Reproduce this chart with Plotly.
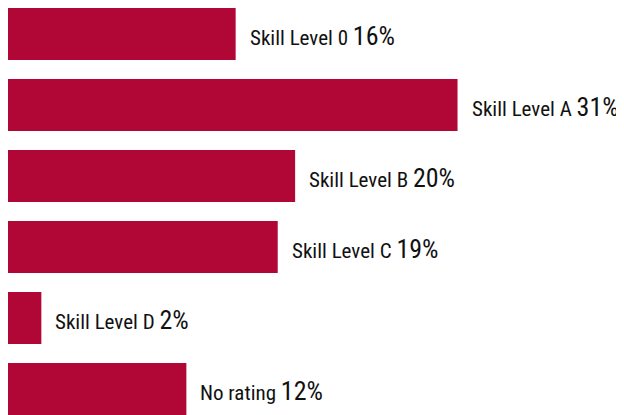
import plotly.graph_objects as go

# Share of staff by skill level (bar lengths, labels rounded)
CATEGORIES = ["Skill Level 0", "Skill Level A", "Skill Level B",
              "Skill Level C", "Skill Level D", "No rating"]
SHARES     = [15.7, 31.0, 19.8, 18.6, 2.3, 12.3]
LABELS     = ["16%", "31%", "20%", "19%", "2%", "12%"]

BAR_COLOR   = "#B00737"
TEXT_COLOR  = "#111111"
FONT_FAMILY = "'Roboto Condensed', 'Liberation Sans Narrow', sans-serif"

fig = go.Figure(go.Bar(
    y=CATEGORIES,
    x=SHARES,
    orientation="h",
    marker=dict(color=BAR_COLOR, line=dict(width=0)),
    hoverinfo="skip",
))

for cat, val, lab in zip(CATEGORIES, SHARES, LABELS):
    fig.add_annotation(
        x=val, y=cat,
        text=f"{cat} <span style='font-size:26px'>{lab}</span>",
        showarrow=False,
        xanchor="left", yanchor="middle",
        xshift=12, yshift=-2,
        font=dict(family=FONT_FAMILY, size=21, color=TEXT_COLOR),
    )

fig.update_layout(
    width=616, height=407,
    margin=dict(l=0, r=0, t=0, b=0),
    paper_bgcolor="white",
    plot_bgcolor="white",
    bargap=0.27,
    showlegend=False,
    font=dict(family=FONT_FAMILY),
    xaxis=dict(range=[0, 42.48], visible=False, fixedrange=True),
    yaxis=dict(range=[5.366, -0.366], visible=False, fixedrange=True),
)

fig.write_html("out.html", config=dict(displayModeBar=False))
